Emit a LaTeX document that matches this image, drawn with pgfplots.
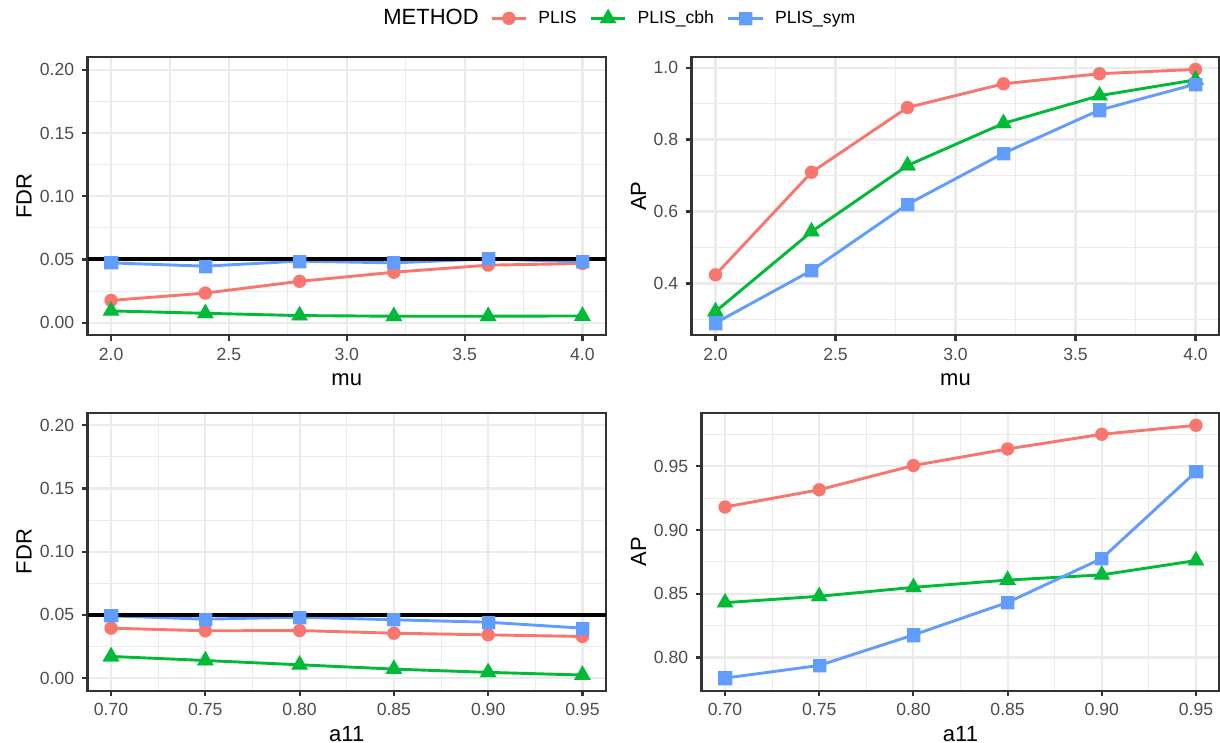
\documentclass[border=0pt]{standalone}
\usepackage{pgfplots}
\pgfplotsset{compat=1.18}
\usepackage{pgfplotstable}
\usepackage{fontspec}
\setmainfont{Liberation Sans}
\definecolor{cPLIS}{HTML}{F8766D}
\definecolor{cCBH}{HTML}{00BA38}
\definecolor{cSYM}{HTML}{619CFF}
\definecolor{gridc}{HTML}{EBEBEB}
\definecolor{gtwenty}{HTML}{333333}
\definecolor{gthirty}{HTML}{4D4D4D}

% top-left: FDR vs mu
\pgfplotstableread{
x    plis    cbh     sym
2.0  0.0176  0.0093  0.0473
2.4  0.0234  0.0074  0.0447
2.8  0.0327  0.0056  0.0487
3.2  0.0399  0.0051  0.0473
3.6  0.0455  0.0051  0.0505
4.0  0.0468  0.0053  0.0481
}\tl
% top-right: AP vs mu
\pgfplotstableread{
x    plis    cbh     sym
2.0  0.424   0.322   0.290
2.4  0.709   0.544   0.436
2.8  0.889   0.728   0.620
3.2  0.955   0.845   0.762
3.6  0.983   0.922   0.882
4.0  0.995   0.966   0.954
}\tr
% bottom-left: FDR vs a11
\pgfplotstableread{
x     plis    cbh     sym
0.70  0.0395  0.0171  0.0492
0.75  0.0374  0.0139  0.0466
0.80  0.0376  0.0105  0.0482
0.85  0.0355  0.0071  0.0461
0.90  0.0342  0.0045  0.0442
0.95  0.0329  0.0024  0.0395
}\bl
% bottom-right: AP vs a11
\pgfplotstableread{
x     plis    cbh     sym
0.70  0.9180  0.8430  0.7839
0.75  0.9315  0.8480  0.7938
0.80  0.9505  0.8550  0.8177
0.85  0.9635  0.8607  0.8432
0.90  0.9750  0.8648  0.8776
0.95  0.9820  0.8760  0.9456
}\br

\pgfplotsset{
  gg/.style={
    scale only axis, anchor=south west,
    axis line style={gtwenty, line width=1.07pt},
    tick style={gtwenty, line width=1.07pt},
    major tick length=2.75pt, minor tick length=0pt,
    tick align=outside, tick pos=left,
    grid=both,
    major grid style={gridc, line width=1.07pt},
    minor grid style={gridc, line width=0.53pt},
    ticklabel style={font=\fontsize{8.8}{10}\selectfont, text=gthirty, inner sep=0pt},
    xticklabel style={anchor=north, yshift=-3.5pt},
    yticklabel style={anchor=east, xshift=-3.75pt},
    label style={font=\fontsize{11}{13}\selectfont},
    xlabel style={at={([yshift=-25.3pt]axis description cs:0.5,0)}, anchor=base},
  },
  mux/.style={xmin=1.9, xmax=4.1, xtick={2,2.5,3,3.5,4},
    xticklabels={2.0,2.5,3.0,3.5,4.0}, minor xtick={2.25,2.75,3.25,3.75}, xlabel={mu}},
  ax/.style={xmin=0.6875, xmax=0.9625, xtick={0.7,0.75,0.8,0.85,0.9,0.95},
    xticklabels={0.70,0.75,0.80,0.85,0.90,0.95}, minor xtick={0.725,0.775,0.825,0.875,0.925}, xlabel={a11}},
  fdry/.style={ymin=-0.01, ymax=0.21, ytick={0,0.05,0.1,0.15,0.2},
    yticklabels={0.00,0.05,0.10,0.15,0.20}, minor ytick={0.025,0.075,0.125,0.175}, ylabel={FDR}},
  lp/.style={#1, line width=1.45pt, no marks, forget plot},
  mp/.style={#1, only marks, forget plot, mark options={fill=#1, draw=#1, line width=0.01pt}},
}

\newcommand{\series}[1]{%
  \addplot[lp=cPLIS] table[x=x,y=plis]{#1};
  \addplot[lp=cCBH] table[x=x,y=cbh]{#1};
  \addplot[lp=cSYM] table[x=x,y=sym]{#1};
  \addplot[mp=cPLIS, mark=*, mark size=3.3pt] table[x=x,y=plis]{#1};
  \addplot[mp=cCBH, mark=triangle*, mark size=4.8pt] table[x=x,y=cbh]{#1};
  \addplot[mp=cSYM, mark=square*, mark size=3.3pt] table[x=x,y=sym]{#1};
}

\begin{document}
\begin{tikzpicture}
\useasboundingbox (0,0) rectangle (610pt,371.5pt);

% top-left
\begin{axis}[gg, mux, fdry, at={(43.75pt,203.85pt)}, width=259.25pt, height=139pt,
  ylabel style={at={([xshift=-27.95pt]axis description cs:0,0.5)}, anchor=base},
  legend style={at={(axis description cs:0.7763,1.14)}, anchor=west, draw=none, fill=none,
    inner sep=0pt, legend columns=-1, font=\fontsize{8.8}{10}\selectfont,
    /tikz/every odd column/.append style={column sep=3.5pt},
    /tikz/every even column/.append style={column sep=4.5pt}}]
\series{\tl}
\addplot[black, line width=2pt, forget plot] coordinates {(1.9,0.05) (4.1,0.05)};
\addlegendimage{cPLIS, line width=1.45pt, mark=*, mark size=3.3pt, mark options={fill=cPLIS, line width=0.01pt}}
\addlegendentry{PLIS}
\addlegendimage{cCBH, line width=1.45pt, mark=triangle*, mark size=4.8pt, mark options={fill=cCBH, line width=0.01pt}}
\addlegendentry{PLIS\_cbh}
\addlegendimage{cSYM, line width=1.45pt, mark=square*, mark size=3.3pt, mark options={fill=cSYM, line width=0.01pt}}
\addlegendentry{PLIS\_sym}
\end{axis}

% top-right
\begin{axis}[gg, mux, at={(345.75pt,203.85pt)}, width=264pt, height=139pt,
  ymin=0.2559, ymax=1.0287, ytick={0.4,0.6,0.8,1.0}, yticklabels={0.4,0.6,0.8,1.0},
  minor ytick={0.3,0.5,0.7,0.9}, ylabel={AP},
  ylabel style={at={([xshift=-22.75pt]axis description cs:0,0.5)}, anchor=base}]
\series{\tr}
\end{axis}

% bottom-left
\begin{axis}[gg, ax, fdry, at={(43.75pt,26.15pt)}, width=259.25pt, height=139pt,
  ylabel style={at={([xshift=-27.95pt]axis description cs:0,0.5)}, anchor=base}]
\series{\bl}
\addplot[black, line width=2pt, forget plot] coordinates {(0.6875,0.05) (0.9625,0.05)};
\end{axis}

% bottom-right
\begin{axis}[gg, ax, at={(350.75pt,26.15pt)}, width=259pt, height=139pt,
  ymin=0.774, ymax=0.9919, ytick={0.80,0.85,0.90,0.95}, yticklabels={0.80,0.85,0.90,0.95},
  minor ytick={0.825,0.875,0.925,0.975}, ylabel={AP},
  ylabel style={at={([xshift=-27.7pt]axis description cs:0,0.5)}, anchor=base}]
\series{\br}
\end{axis}

\node[anchor=base west, inner sep=0pt, font=\fontsize{11}{13}\selectfont] at (191.5pt,359pt) {METHOD};
\end{tikzpicture}
\end{document}
